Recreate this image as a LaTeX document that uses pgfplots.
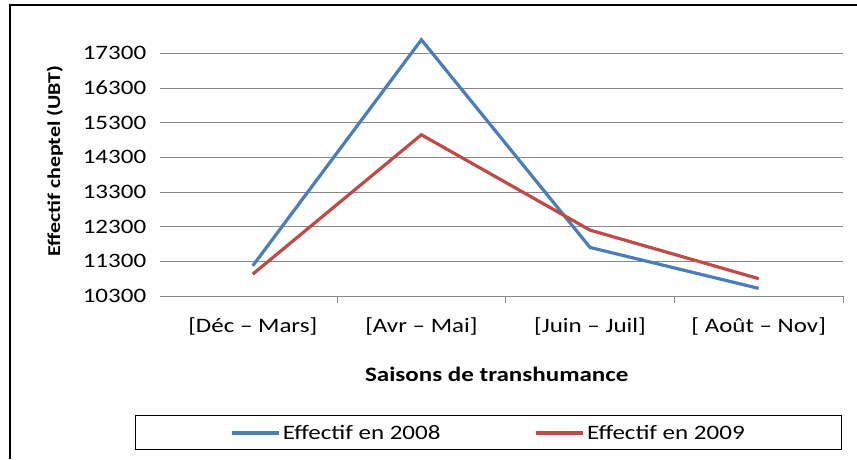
\documentclass[border=0pt]{standalone}
\usepackage{fontspec}
\setmainfont{Carlito}[FakeStretch=1.22]
\usepackage{pgfplots}
\pgfplotsset{compat=1.18}
\definecolor{blueline}{HTML}{4A7EBB}
\definecolor{redline}{HTML}{BE4B48}
\definecolor{gridgray}{HTML}{888888}
\begin{document}
\begin{tikzpicture}
\useasboundingbox (0pt,0pt) rectangle (857pt,459pt);
\draw[line width=2pt] (9.5pt,0pt) -- (9.5pt,453.5pt) -- (857pt,453.5pt);
\begin{axis}[
  at={(160pt,163pt)}, anchor=south west, scale only axis,
  width=683pt, height=267pt,
  xmin=-0.55, xmax=3.5, ymin=10300, ymax=18000,
  axis x line*=bottom, axis y line*=left,
  x axis line style={gridgray, line width=0.8pt, -},
  y axis line style={draw=none},
  xtick={0,1,2,3},
  xticklabels={{[Déc -- Mars]},{[Avr -- Mai]},{[Juin -- Juil]},{[ Août -- Nov]}},
  minor xtick={0.5,1.5,2.5,3.5},
  tick align=outside,
  major x tick style={draw=none},
  minor x tick style={gridgray, line width=0.8pt},
  minor tick length=7pt,
  ytick={10300,11300,...,17300},
  scaled y ticks=false,
  major y tick style={draw=none},
  ymajorgrids, grid style={gridgray, line width=0.8pt},
  /pgf/number format/assume math mode=true,
  /pgf/number format/set thousands separator={},
  ticklabel style={font=\fontsize{20.5}{24}\selectfont},
  yticklabel style={xshift=-6pt},
  xticklabel style={yshift=-14pt},
  ylabel={Effectif cheptel (UBT)},
  ylabel style={font=\bfseries\fontsize{18}{22}\selectfont, at={(axis description cs:-0.154,0.505)}, anchor=center},
  xlabel={Saisons de transhumance},
  xlabel style={font=\bfseries\fontsize{20.5}{24}\selectfont, at={(axis description cs:0.493,-0.292)}, anchor=center},
  legend columns=2,
  legend style={at={(axis description cs:0.481,-0.512)}, anchor=center, draw=black, line width=1.2pt,
    font=\fontsize{20.5}{24}\selectfont, inner xsep=95pt, inner ysep=3pt,
    nodes={inner ysep=6pt},
    /tikz/every even column/.append style={column sep=92pt}},
  legend image code/.code={\draw[#1, line width=3.6pt] (0pt,0pt) -- (47pt,0pt);},
]
\addplot[blueline, line width=3.2pt] coordinates {(0,11170) (1,17690) (2,11700) (3,10520)};
\addlegendentry{Effectif en 2008}
\addplot[redline, line width=3.2pt] coordinates {(0,10930) (1,14950) (2,12200) (3,10800)};
\addlegendentry{Effectif en 2009}
\end{axis}
\end{tikzpicture}
\end{document}
